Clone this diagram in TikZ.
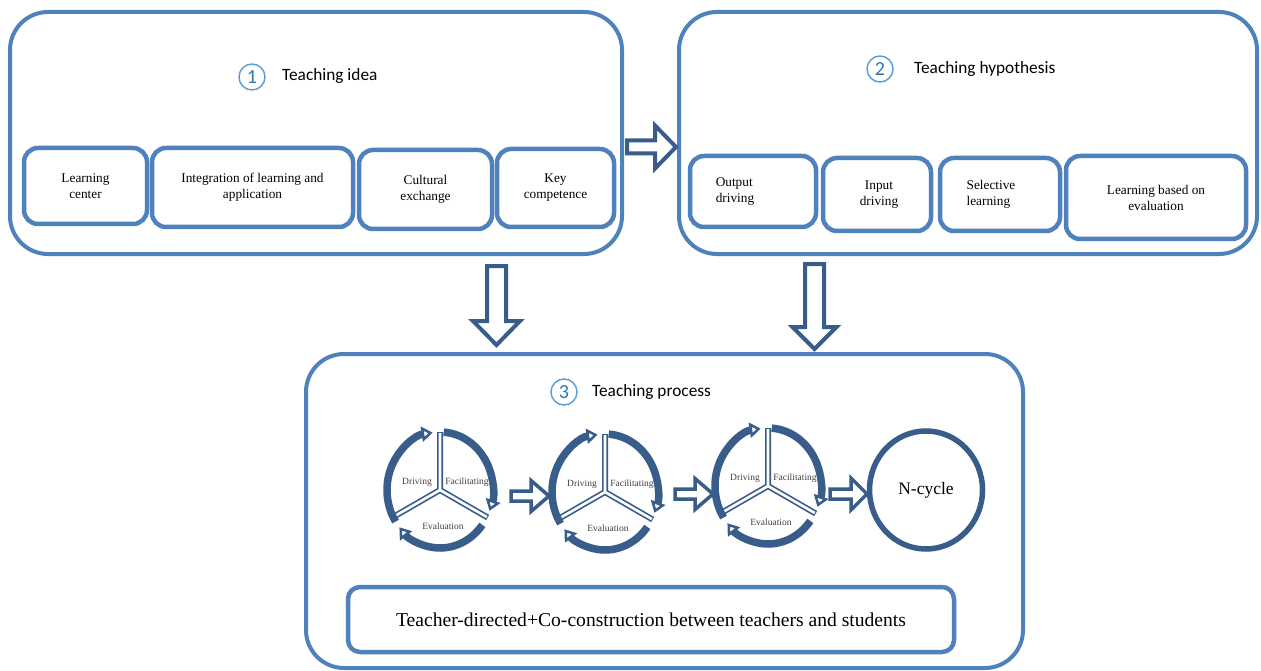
\documentclass[tikz,border=0pt]{standalone}
\usepackage{fontspec}
\setmainfont{Liberation Serif}
\newfontfamily\calib{Carlito}
\usetikzlibrary{arrows.meta,shapes.geometric}
\definecolor{boxblue}{RGB}{79,129,189}
\definecolor{darkblue}{RGB}{56,93,138}
\definecolor{numblue}{RGB}{91,155,213}
\definecolor{numtext}{RGB}{46,117,182}
\tikzset{
  outerbox/.style={draw=boxblue, line width=4pt, rounded corners=38pt},
  innerbox/.style={draw=boxblue, line width=4.5pt, rounded corners=14pt},
  boxtext/.style={align=center, font=\fontsize{13.3}{16}\selectfont, inner sep=0pt},
  boxtextl/.style={align=left, font=\fontsize{13.3}{16}\selectfont, inner sep=0pt},
  titletext/.style={anchor=west, font=\calib\fontsize{17.3}{18}\selectfont, inner sep=0pt},
  numcircle/.style={circle, draw=numblue, line width=1.4pt, minimum size=26pt, inner sep=0pt,
      text=numtext, font=\calib\fontsize{20}{20}\selectfont},
  blockarrow/.style={draw=darkblue, fill=white, line width=4pt, line join=miter},
  cyc/.style={draw=darkblue, line width=7.5pt},
  cyctip/.style={-{Triangle[open, length=11pt, width=15pt, line width=2.5pt]}},
  divdark/.style={draw=darkblue, line width=6pt},
  divwhite/.style={draw=white, line width=2.6pt},
  cyclabel/.style={font=\fontsize{9.5}{10}\selectfont, text=black!75, inner sep=0pt},
}
% name, x, y, angle, L, bw, hw, hl, lw
\newcommand\BArrow[9]{%
  \begin{scope}[shift={(#2,#3)}, rotate=#4, x=1pt, y=1pt]
    \coordinate (#1) at (0,0);
    \draw[blockarrow, line width=#9pt] (0,#6/2) -- (#5-#8,#6/2) -- (#5-#8,#7/2) -- (#5,0)
      -- (#5-#8,-#7/2) -- (#5-#8,-#6/2) -- (0,-#6/2) -- cycle;
  \end{scope}}
% name, x, y
\newcommand\Cycle[3]{%
  \begin{scope}[shift={(#2,#3)}, x=1pt, y=1pt]
    \coordinate (#1) at (0,0);
    \draw[divdark] (90:58) -- (0,0) -- (-30:55) (0,0) -- (210:56);
    \draw[divwhite] (90:57) -- (0,0) -- (-30:54) (0,0) -- (210:55);
    \draw[cyc, cyctip] (213:53 and 58) arc[start angle=213, end angle=98, x radius=53, y radius=58];
    \draw[cyc, cyctip] (86:53 and 58) arc[start angle=86, end angle=-21, x radius=53, y radius=58];
    \draw[cyc, cyctip] (-37:53 and 58) arc[start angle=-37, end angle=-140, x radius=53, y radius=58];
    \node[cyclabel] (#1-d) at (-23,8) {Driving};
    \node[cyclabel] (#1-f) at (27,8) {Facilitating};
    \node[cyclabel] (#1-e) at (3,-36) {Evaluation};
  \end{scope}}
\begin{document}
\begin{tikzpicture}[x=1pt, y=-1pt]
\useasboundingbox[fill=white] (0,0) rectangle (1261,671);

% outer boxes
\node[outerbox, minimum width=612pt, minimum height=242pt] (B1) at (316,133) {};
\node[outerbox, minimum width=578pt, minimum height=242pt] (B2) at (968,133) {};
\node[outerbox, minimum width=717pt, minimum height=314pt] (B3) at (664.5,511) {};

% titles
\node[numcircle] (n1) at (252,77) {1};
\node[titletext] (t1) at (282,76) {Teaching idea};
\node[numcircle] (n2) at (880,69) {2};
\node[titletext] (t2) at (914,69) {Teaching hypothesis};
\node[numcircle] (n3) at (564,392) {3};
\node[titletext] (t3) at (592,392) {Teaching process};

% box 1 inner
\node[innerbox, minimum width=123pt, minimum height=76pt] (lc) at (85.5,186) {};
\node[boxtext] (lct) at (lc.center) {Learning\\center};
\node[innerbox, minimum width=201pt, minimum height=79pt] (il) at (252.5,187.5) {};
\node[boxtext] (ilt) at (il.center) {Integration of learning and\\application};
\node[innerbox, minimum width=133pt, minimum height=79pt] (ce) at (425.5,189.5) {};
\node[boxtext] (cet) at (ce.center) {Cultural\\exchange};
\node[innerbox, minimum width=117pt, minimum height=78pt] (kc) at (555.5,188) {};
\node[boxtext] (kct) at (kc.center) {Key\\competence};

% box 2 inner
\node[innerbox, minimum width=126pt, minimum height=71pt] (od) at (753,191.5) {};
\node[boxtextl, xshift=-18pt] (odt) at (od.center) {Output\\driving};
\node[innerbox, minimum width=108pt, minimum height=73pt] (id) at (877,194.5) {};
\node[boxtext, xshift=2pt] (idt) at (id.center) {Input\\driving};
\node[innerbox, minimum width=120pt, minimum height=73pt] (sl) at (1000,194.5) {};
\node[boxtextl, xshift=-9pt] (slt) at (sl.center) {Selective\\learning};
\node[innerbox, minimum width=180pt, minimum height=83pt] (le) at (1156,197.5) {};
\node[boxtext] (let) at (le.center) {Learning based on\\evaluation};

% block arrows between boxes
\BArrow{a12}{627}{147}{0}{49}{13}{43}{21}{4}
\BArrow{a13}{496.5}{266}{-90}{79}{19}{47}{24}{4}
\BArrow{a23}{814.5}{264}{-90}{85}{19}{44}{22}{4}

% cycles
\Cycle{c1}{440}{490}
\Cycle{c2}{605}{492}
\Cycle{c3}{768}{486}

\BArrow{ac1}{511}{496}{0}{38}{10}{31}{18}{3.5}
\BArrow{ac2}{675}{494}{0}{38}{10}{31}{18}{3.5}
\BArrow{ac3}{830}{494}{0}{37}{10}{32}{16}{3.5}

\node[ellipse, draw=darkblue, line width=5.5pt, minimum width=113pt, minimum height=118pt,
      font=\fontsize{17.5}{17}\selectfont] (nc) at (926,490) {N-cycle};

% bottom box
\node[innerbox, rounded corners=12pt, minimum width=606pt, minimum height=65pt,
      font=\fontsize{19.6}{20}\selectfont] (tc) at (651,619.5)
      {Teacher-directed+Co-construction between teachers and students};
\end{tikzpicture}
\end{document}
